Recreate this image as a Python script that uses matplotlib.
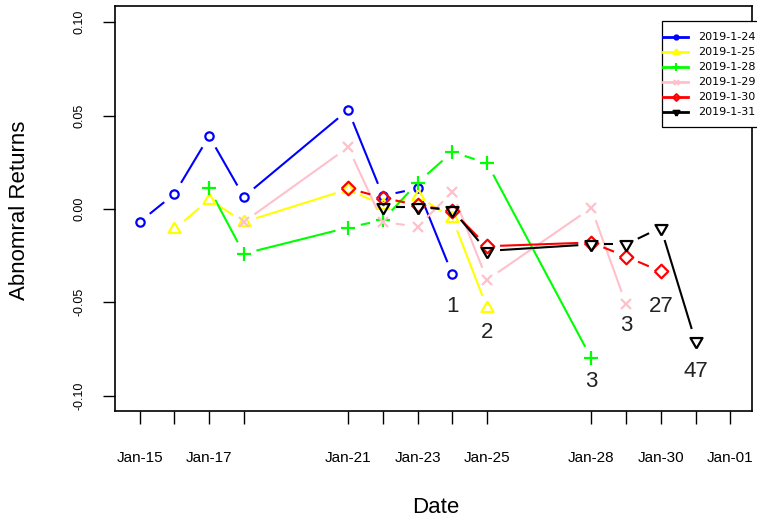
import numpy as np
import pandas as pd
import matplotlib
matplotlib.use("Agg")
import matplotlib.pyplot as plt
import matplotlib.dates as mdates
from matplotlib.patches import Rectangle
from matplotlib.lines import Line2D

plt.rcParams['font.family'] = ['Liberation Sans', 'DejaVu Sans']

# trading days on the x axis
days = pd.to_datetime(['2019-01-15', '2019-01-16', '2019-01-17', '2019-01-18',
                       '2019-01-21', '2019-01-22', '2019-01-23', '2019-01-24',
                       '2019-01-25', '2019-01-28', '2019-01-29', '2019-01-30',
                       '2019-01-31', '2019-02-01'])
day_labels = ['Jan-15', '', 'Jan-17', '', 'Jan-21', '', 'Jan-23', '', 'Jan-25',
              'Jan-28', '', 'Jan-30', '', 'Jan-01']

names = ['2019-1-24', '2019-1-25', '2019-1-28', '2019-1-29', '2019-1-30', '2019-1-31']
colors = ['blue', 'yellow', '#00ff00', 'pink', 'red', 'black']
end_labels = ['1', '2', '3', '3', '27', '47']

# index of the first trading day of each series
start_idx = [0, 1, 2, 3, 4, 5]

ar_0124 = [-0.007, 0.008, 0.039, 0.0065, 0.053, 0.007, 0.011, -0.035]
ar_0125 = [-0.011, 0.005, -0.007, 0.0105, 0.002, 0.007, -0.005, -0.053]
ar_0128 = [0.011, -0.024, -0.010, -0.006, 0.014, 0.0305, 0.0245, -0.080]
ar_0129 = [-0.007, 0.033, -0.007, -0.0095, 0.009, -0.038, 0.0005, -0.051]
ar_0130 = [0.011, 0.006, 0.002, -0.001, -0.020, -0.018, -0.0255, -0.0335]
ar_0131 = [0.001, 0.001, -0.0005, -0.0225, -0.019, -0.019, -0.010, -0.071]
series = [ar_0124, ar_0125, ar_0128, ar_0129, ar_0130, ar_0131]

# label offsets under the last point (points)
label_dy = [-23, -18, -17, -15.5, -25, -22]

# R style point symbols (pch 1..6)
tri_up = [(0, 1.555), (1.347, -0.778), (-1.347, -0.778), (0, 1.555)]
tri_dn = [(0, -1.555), (1.347, 0.778), (-1.347, 0.778), (0, -1.555)]
diamond = [(-1, 0), (0, 1), (1, 0), (0, -1), (-1, 0)]
markers = ['o', tri_up, '+', 'x', diamond, tri_dn]
msizes = [6.0, 10.0, 10.4, 7.2, 9.8, 10.0]

W, H = 757, 523
fig = plt.figure(figsize=(W / 100, H / 100), dpi=100)
ax_l, ax_r, ax_t, ax_b = 115, 752, 6, 410.5
ax = fig.add_axes([ax_l / W, 1 - ax_b / H, (ax_r - ax_l) / W, (ax_b - ax_t) / H])

ax.set_xlim(days[0] - pd.Timedelta(hours=17), days[-1] + pd.Timedelta(hours=15))
ax.set_ylim(-0.108, 0.1087)

ax.set_xticks(days)
ax.set_xticklabels(day_labels, fontsize=11)
ax.set_yticks([-0.10, -0.05, 0.0, 0.05, 0.10])
ax.set_yticklabels(['-0.10', '-0.05', '0.00', '0.05', '0.10'], fontsize=9,
                   rotation=90, va='center')
ax.tick_params(axis='x', length=9, width=1, pad=20, direction='out')
ax.tick_params(axis='y', length=9, width=1, pad=12, direction='out')
for s in ax.spines.values():
    s.set_linewidth(1.2)


def gapped_line(xs, ys, color, gap=13):
    # lines broken around the points like R type="b"
    pts = ax.transData.transform(np.column_stack([mdates.date2num(xs), ys]))
    inv = ax.transData.inverted()
    for p0, p1 in zip(pts[:-1], pts[1:]):
        d = p1 - p0
        L = np.hypot(d[0], d[1])
        if L <= 2 * gap:
            continue
        u = d / L
        a = inv.transform(p0 + u * gap)
        b = inv.transform(p1 - u * gap)
        ax.plot([a[0], b[0]], [a[1], b[1]], color=color, lw=1.5,
                solid_capstyle='butt', zorder=2)


for i, vals in enumerate(series):
    xs = days[start_idx[i]:start_idx[i] + len(vals)]
    gapped_line(xs, vals, colors[i])
    ax.plot(xs, vals, ls='none', marker=markers[i], ms=msizes[i], mfc='none',
            mec=colors[i], mew=1.6, zorder=3)
    ax.annotate(end_labels[i], (xs[-1], vals[-1]), xytext=(0, label_dy[i]),
                textcoords='offset points', ha='center', va='center',
                fontsize=16, color='#222222')

fig.text(435.7 / W, 1 - 507.7 / H, 'Date', fontsize=16, ha='center', va='center')
fig.text(20 / W, 1 - 210 / H, 'Abnomral Returns', fontsize=16, ha='center',
         va='center', rotation=90)

# legend (box runs off the right edge as in the original)
lg_l, lg_t, lg_b = 662, 21, 126.5
fig.patches.append(Rectangle((lg_l / W, 1 - lg_b / H), 200 / W, (lg_b - lg_t) / H,
                             transform=fig.transFigure, fill=True, fc='white',
                             ec='black', lw=0.9, zorder=5))
for i, name in enumerate(names):
    yy = 1 - (37 + 15 * i) / H
    fig.add_artist(Line2D([663 / W, 688 / W], [yy, yy], color=colors[i], lw=2,
                          marker=None, zorder=6))
    fig.add_artist(Line2D([675.5 / W], [yy], color=colors[i], marker=markers[i],
                          ms=msizes[i] * 0.5, mfc='none', mew=1.5, ls='none', zorder=6))
    fig.text(698 / W, yy, name, fontsize=8, family='DejaVu Sans', va='center',
             ha='left', zorder=7)

fig.savefig('out.png', dpi=100)
